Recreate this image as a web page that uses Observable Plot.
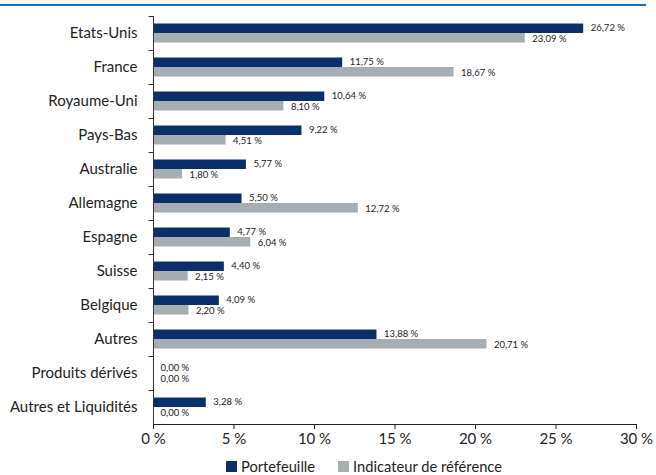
<!DOCTYPE html>
<html>
<head>
<meta charset="utf-8">
<script src="https://cdn.jsdelivr.net/npm/d3@7"></script>
<script src="https://cdn.jsdelivr.net/npm/@observablehq/plot@0.6"></script>
<style>
  html, body { margin: 0; padding: 0; background: #fff; }
  body { width: 656px; height: 475px; position: relative; overflow: hidden; font-family: Lato, "Open Sans", sans-serif; }
  #topline { position: absolute; left: 0; top: 4px; width: 646px; height: 2px; background: #1f6db3; z-index: 2; }
  #chart { position: absolute; left: 0; top: 0; z-index: 1; }
  #legend { position: absolute; left: 226px; top: 457px; display: flex; align-items: center; font-size: 14.7px; color: #222; z-index: 2; }
  #legend .sw { display: inline-block; width: 11px; height: 11px; margin-right: 4px; }
  #legend .item { display: flex; align-items: center; margin-right: 23px; }
</style>
</head>
<body>
<div id="topline"></div>
<div id="chart"></div>
<div id="legend"></div>
<script>
const countries = ["Etats-Unis", "France", "Royaume-Uni", "Pays-Bas", "Australie", "Allemagne", "Espagne", "Suisse", "Belgique", "Autres", "Produits dérivés", "Autres et Liquidités"];
const portefeuille = [26.72, 11.75, 10.64, 9.22, 5.77, 5.50, 4.77, 4.40, 4.09, 13.88, 0.00, 3.28];
const reference = [23.09, 18.67, 8.10, 4.51, 1.80, 12.72, 6.04, 2.15, 2.20, 20.71, 0.00, 0.00];
const xTicks = [0, 5, 10, 15, 20, 25, 30];
const seriesNames = ["Portefeuille", "Indicateur de référence"];
const colors = ["#0b2f6b", "#a6adb3"];

const data = countries.map((c, i) => ({country: c, p: portefeuille[i], r: reference[i]}));
const fmt = v => v.toFixed(2).replace(".", ",") + " %";

const chart = Plot.plot({
  width: 656,
  height: 452,
  marginLeft: 153,
  marginRight: 20,
  marginTop: 16,
  marginBottom: 28,
  style: {fontFamily: "Lato, 'Open Sans', sans-serif", fontSize: "15px", color: "#222", background: "transparent"},
  x: {domain: [0, 30], ticks: xTicks, tickFormat: d => d + " %", tickSize: 5, tickPadding: 4, label: null, line: true},
  y: {domain: countries, padding: 0, tickSize: 0, tickPadding: 16, label: null},
  marks: [
    Plot.barX(data, {x: "p", y: "country", fill: colors[0], insetTop: 7.5, insetBottom: 17}),
    Plot.barX(data, {x: "r", y: "country", fill: colors[1], insetTop: 17, insetBottom: 7.5}),
    Plot.text(data, {x: "p", y: "country", text: d => fmt(d.p), dy: -5.5, dx: 7, textAnchor: "start", fontSize: 9.5, fill: "#222"}),
    Plot.text(data, {x: "r", y: "country", text: d => fmt(d.r), dy: 5.5, dx: 7, textAnchor: "start", fontSize: 9.5, fill: "#222"}),
    Plot.ruleX([0], {stroke: "#333"}),
    Plot.ruleY(countries, {y: d => d, x1: -0.28, x2: 0, dy: -17, stroke: "#333", clip: false})
  ]
});
document.getElementById("chart").appendChild(chart);

const legend = document.getElementById("legend");
seriesNames.forEach((name, i) => {
  const item = document.createElement("span");
  item.className = "item";
  const sw = document.createElement("span");
  sw.className = "sw";
  sw.style.background = colors[i];
  item.appendChild(sw);
  item.appendChild(document.createTextNode(name));
  legend.appendChild(item);
});
</script>
</body>
</html>
